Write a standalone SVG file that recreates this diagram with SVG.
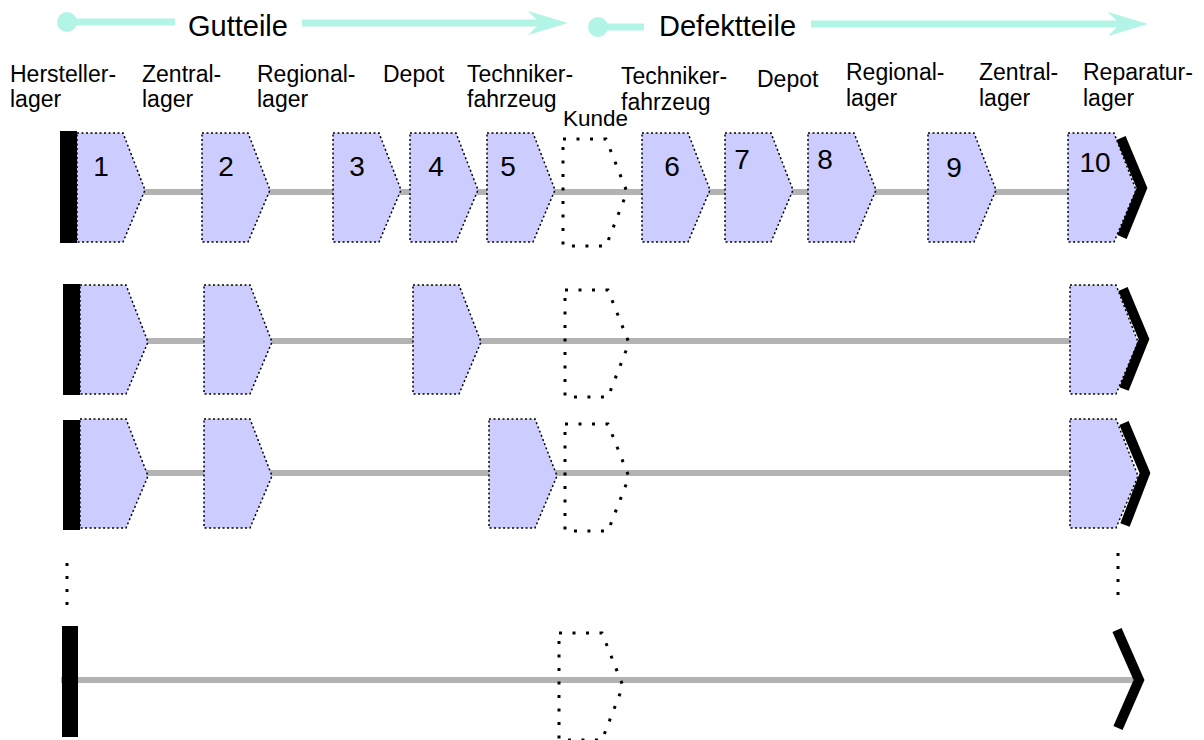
<svg xmlns="http://www.w3.org/2000/svg" width="1204" height="740" viewBox="0 0 1204 740">
<defs>
<style>
text{font-family:"Liberation Sans",Arial,sans-serif;fill:#000}
.lbl{font-size:23px}
.num{font-size:28px;text-anchor:middle}
.ttl{font-size:29px}
.kd{font-size:22.5px}
.flow{stroke:#b2f5e6;stroke-width:7;fill:none}
.bar{fill:#000}
.axis{stroke:#b3b3b3;stroke-width:6;fill:none}
.st{fill:#ccccff;stroke:#000;stroke-width:1.5;stroke-dasharray:2 2.5}
.ku{fill:none;stroke:#000;stroke-width:3;stroke-dasharray:3 10.5}
.chev{fill:none;stroke:#000;stroke-width:10;stroke-linejoin:miter}
.vdot{stroke:#000;stroke-width:3;stroke-dasharray:3 10}
</style>
<path id="pent" d="M0,0 H46 L68,57 L46,109 H0 Z"/>
<path id="kunde" d="M0,0 H43 L64,53 L43,107 H0 Z"/>
</defs>

<g id="header">
<circle cx="67" cy="22" r="10" fill="#b2f5e6"/>
<line class="flow" x1="67" y1="22" x2="175" y2="22"/>
<line class="flow" x1="302" y1="23" x2="540" y2="23"/>
<polygon points="568,23 528,11 540,23 528,35" fill="#b2f5e6"/>
<text class="ttl" x="188" y="36">Gutteile</text>
<circle cx="598" cy="27" r="10" fill="#b2f5e6"/>
<line class="flow" x1="598" y1="27" x2="644" y2="27"/>
<line class="flow" x1="811" y1="24" x2="1120" y2="24"/>
<polygon points="1148,24 1108,12 1120,24 1108,36" fill="#b2f5e6"/>
<text class="ttl" x="659" y="36">Defektteile</text>
</g>

<g id="labels">
<text class="lbl" x="10" y="82">Hersteller-</text><text class="lbl" x="10" y="107">lager</text>
<text class="lbl" x="142" y="82">Zentral-</text><text class="lbl" x="142" y="107">lager</text>
<text class="lbl" x="257" y="82">Regional-</text><text class="lbl" x="257" y="107">lager</text>
<text class="lbl" x="383" y="82">Depot</text>
<text class="lbl" x="467" y="82">Techniker-</text><text class="lbl" x="467" y="107">fahrzeug</text>
<text class="kd" x="563" y="126">Kunde</text>
<text class="lbl" x="621" y="84">Techniker-</text><text class="lbl" x="621" y="110">fahrzeug</text>
<text class="lbl" x="757" y="87">Depot</text>
<text class="lbl" x="846" y="80">Regional-</text><text class="lbl" x="846" y="106">lager</text>
<text class="lbl" x="979" y="80">Zentral-</text><text class="lbl" x="979" y="106">lager</text>
<text class="lbl" x="1083" y="80">Reparatur-</text><text class="lbl" x="1083" y="106">lager</text>
</g>

<g id="connectors">
<line class="axis" x1="62" y1="192" x2="1068" y2="192"/>
<line class="axis" x1="65" y1="341" x2="1070" y2="341"/>
<line class="axis" x1="65" y1="473" x2="1070" y2="473"/>
<line class="axis" x1="61" y1="680" x2="1133" y2="680"/>
</g>

<g id="row1">
<rect class="bar" x="60" y="131" width="17" height="112"/>
<g id="n1"><use href="#pent" class="st" x="77" y="133"/><text class="num" x="101" y="176">1</text></g>
<g id="n2"><use href="#pent" class="st" x="202" y="133"/><text class="num" x="226" y="176">2</text></g>
<g id="n3"><use href="#pent" class="st" x="333" y="133"/><text class="num" x="357" y="176">3</text></g>
<g id="n4"><use href="#pent" class="st" x="410" y="133"/><text class="num" x="436" y="176">4</text></g>
<g id="n5"><use href="#pent" class="st" x="487" y="133"/><text class="num" x="508" y="176">5</text></g>
<g id="k1"><use href="#kunde" class="ku" x="563" y="139"/></g>
<g id="n6"><use href="#pent" class="st" x="642" y="133"/><text class="num" x="672" y="176">6</text></g>
<g id="n7"><use href="#pent" class="st" x="725" y="133"/><text class="num" x="742" y="169">7</text></g>
<g id="n8"><use href="#pent" class="st" x="808" y="133"/><text class="num" x="825" y="169">8</text></g>
<g id="n9"><use href="#pent" class="st" x="928" y="133"/><text class="num" x="954" y="177">9</text></g>
<g id="n10"><use href="#pent" class="st" x="1068" y="133"/><text class="num" x="1095" y="172">10</text></g>
<polyline class="chev" points="1121,138 1142,188 1122,237"/>
</g>

<g id="row2">
<rect class="bar" x="63" y="284" width="17" height="111"/>
<use href="#pent" class="st" x="80" y="285"/>
<use href="#pent" class="st" x="204" y="285"/>
<use href="#pent" class="st" x="413" y="285"/>
<use href="#kunde" class="ku" x="565" y="290"/>
<use href="#pent" class="st" x="1070" y="285"/>
<polyline class="chev" points="1123,289 1144,339 1124,389"/>
</g>

<g id="row3">
<rect class="bar" x="63" y="420" width="17" height="110"/>
<use href="#pent" class="st" x="80" y="419"/>
<use href="#pent" class="st" x="204" y="419"/>
<use href="#pent" class="st" x="489" y="419"/>
<use href="#kunde" class="ku" x="565" y="424"/>
<use href="#pent" class="st" x="1070" y="419"/>
<polyline class="chev" points="1124,423 1145,473 1125,525"/>
</g>

<g id="ellipsis">
<line class="vdot" x1="67" y1="563" x2="67" y2="606"/>
<line class="vdot" x1="1118" y1="553" x2="1118" y2="596"/>
</g>

<g id="row4">
<rect class="bar" x="62" y="626" width="16" height="111"/>
<use href="#kunde" class="ku" x="559" y="633"/>
<polyline class="chev" points="1117,630 1139,680 1118,728"/>
</g>
</svg>
